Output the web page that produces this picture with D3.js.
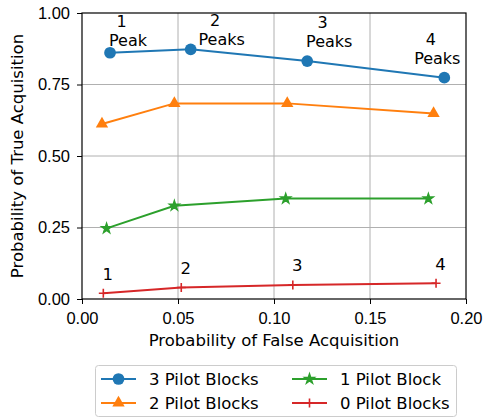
<!DOCTYPE html>
<html>
<head>
<meta charset="utf-8">
<script src="https://cdn.jsdelivr.net/npm/d3@7"></script>
<style>
  body { margin: 0; background: #fff; }
  svg { font-family: "DejaVu Sans", sans-serif; }
  .tick text { font-size: 16.5px; fill: #000; }
</style>
</head>
<body>
<svg width="485" height="418"></svg>
<script>
const seriesNames = ["3 Pilot Blocks", "2 Pilot Blocks", "1 Pilot Block", "0 Pilot Blocks"]
const colors      = ["#1f77b4", "#ff7f0e", "#2ca02c", "#d62728"]
const markers     = ["circle", "triangle", "star", "plus"]

const pfa3 = [0.0146, 0.0566, 0.1173, 0.1887]
const pd3  = [0.861, 0.873, 0.832, 0.774]
const pfa2 = [0.0104, 0.0481, 0.1069, 0.1831]
const pd2  = [0.612, 0.684, 0.684, 0.649]
const pfa1 = [0.0128, 0.0481, 0.1061, 0.1804]
const pd1  = [0.247, 0.326, 0.351, 0.351]
const pfa0 = [0.0111, 0.0517, 0.1098, 0.1844]
const pd0  = [0.020, 0.040, 0.049, 0.055]

const peakNumbers = ["1", "2", "3", "4"]
const peakWords   = ["Peak", "Peaks", "Peaks", "Peaks"]
const zeroLabels  = ["1", "2", "3", "4"]

const xTicks = [0, 0.05, 0.10, 0.15, 0.20]
const yTicks = [0, 0.25, 0.5, 0.75, 1.0]

const series = [
	{ x: pfa3, y: pd3 },
	{ x: pfa2, y: pd2 },
	{ x: pfa1, y: pd1 },
	{ x: pfa0, y: pd0 }
].map((s, i) => ({
	name: seriesNames[i], color: colors[i], marker: markers[i],
	points: s.x.map((v, k) => [v, s.y[k]])
}))

const svg = d3.select("svg")
const plotLeft = 82, plotRight = 466, plotTop = 13, plotBottom = 299
const FONT = 16.5

const x = d3.scaleLinear().domain([0, 0.2]).range([plotLeft, plotRight])
const y = d3.scaleLinear().domain([0, 1]).range([plotBottom, plotTop])

// grid
svg.append("g").selectAll("line").data(xTicks.slice(1, -1)).join("line")
	.attr("x1", d => x(d)).attr("x2", d => x(d))
	.attr("y1", plotTop).attr("y2", plotBottom)
	.attr("stroke", "#b0b0b0").attr("stroke-width", 1)
svg.append("g").selectAll("line").data(yTicks.slice(1, -1)).join("line")
	.attr("y1", d => y(d)).attr("y2", d => y(d))
	.attr("x1", plotLeft).attr("x2", plotRight)
	.attr("stroke", "#b0b0b0").attr("stroke-width", 1)

// axes
svg.append("g").attr("transform", `translate(0,${plotBottom})`)
	.call(d3.axisBottom(x).tickValues(xTicks).tickFormat(d3.format(".2f")).tickSize(5).tickPadding(8))
svg.append("g").attr("transform", `translate(${plotLeft},0)`)
	.call(d3.axisLeft(y).tickValues(yTicks).tickFormat(d3.format(".2f")).tickSize(5).tickPadding(7))
svg.selectAll(".domain").remove()
svg.selectAll(".tick line").attr("stroke", "#000").attr("stroke-width", 1)

svg.append("rect")
	.attr("x", plotLeft).attr("y", plotTop)
	.attr("width", plotRight - plotLeft).attr("height", plotBottom - plotTop)
	.attr("fill", "none").attr("stroke", "#000").attr("stroke-width", 1.2)

svg.append("text")
	.attr("x", (plotLeft + plotRight) / 2).attr("y", 346)
	.attr("text-anchor", "middle").attr("font-size", FONT)
	.text("Probability of False Acquisition")
svg.append("text")
	.attr("transform", `translate(22.5,${(plotTop + plotBottom) / 2}) rotate(-90)`)
	.attr("text-anchor", "middle").attr("font-size", FONT)
	.text("Probability of True Acquisition")

const symbols = {
	circle: d3.symbol(d3.symbolCircle, 108),
	triangle: d3.symbol(d3.symbolTriangle, 66),
	star: d3.symbol(d3.symbolStar, 34)
}

function drawMarker(g, type, color) {
	if (type === "plus") {
		g.append("path").attr("d", "M-4.5,0H4.5M0,-4.5V4.5")
			.attr("stroke", color).attr("stroke-width", 1.6).attr("fill", "none")
	} else {
		g.append("path").attr("d", symbols[type]()).attr("fill", color)
			.attr("stroke", color).attr("stroke-width", type === "star" ? 1.2 : 0)
	}
}

const line = d3.line().x(d => x(d[0])).y(d => y(d[1]))

series.forEach(s => {
	svg.append("path").datum(s.points)
		.attr("d", line).attr("fill", "none")
		.attr("stroke", s.color).attr("stroke-width", 2)
	s.points.forEach(p => {
		const g = svg.append("g").attr("transform", `translate(${x(p[0])},${y(p[1])})`)
		drawMarker(g, s.marker, s.color)
	})
})

// peak annotations on the 3 pilot block series: [dx of word centre, dy of word baseline]
const peakOffsets = [[18, -6.5], [31, -4.5], [22, -14.5], [-7, -13.5]]
series[0].points.forEach((p, i) => {
	const cx = x(p[0]) + peakOffsets[i][0]
	const by = y(p[1]) + peakOffsets[i][1]
	const t = svg.append("text")
		.attr("text-anchor", "middle").attr("font-size", 16)
	t.append("tspan").attr("x", cx - 6.5).attr("y", by - 18.8).text(peakNumbers[i])
	t.append("tspan").attr("x", cx).attr("y", by).text(peakWords[i])
})

series[3].points.forEach((p, i) => {
	svg.append("text")
		.attr("x", x(p[0]) + 4.5)
		.attr("y", y(p[1]) - 13.5)
		.attr("text-anchor", "middle").attr("font-size", FONT)
		.text(zeroLabels[i])
})

// legend
const legend = svg.append("g")
legend.append("rect")
	.attr("x", 95.5).attr("y", 365.5).attr("width", 361).attr("height", 51)
	.attr("rx", 3).attr("fill", "#fff").attr("stroke", "#cccccc")
const legendPos = [[101, 379], [101, 403], [292, 379], [292, 403]]
series.forEach((s, i) => {
	const [lx, ly] = legendPos[i]
	legend.append("line")
		.attr("x1", lx).attr("x2", lx + 35).attr("y1", ly).attr("y2", ly)
		.attr("stroke", s.color).attr("stroke-width", 2)
	drawMarker(legend.append("g").attr("transform", `translate(${lx + 17.5},${ly})`), s.marker, s.color)
	legend.append("text")
		.attr("x", lx + 48).attr("y", ly + 5.5)
		.attr("font-size", FONT)
		.text(s.name)
})
</script>
</body>
</html>
